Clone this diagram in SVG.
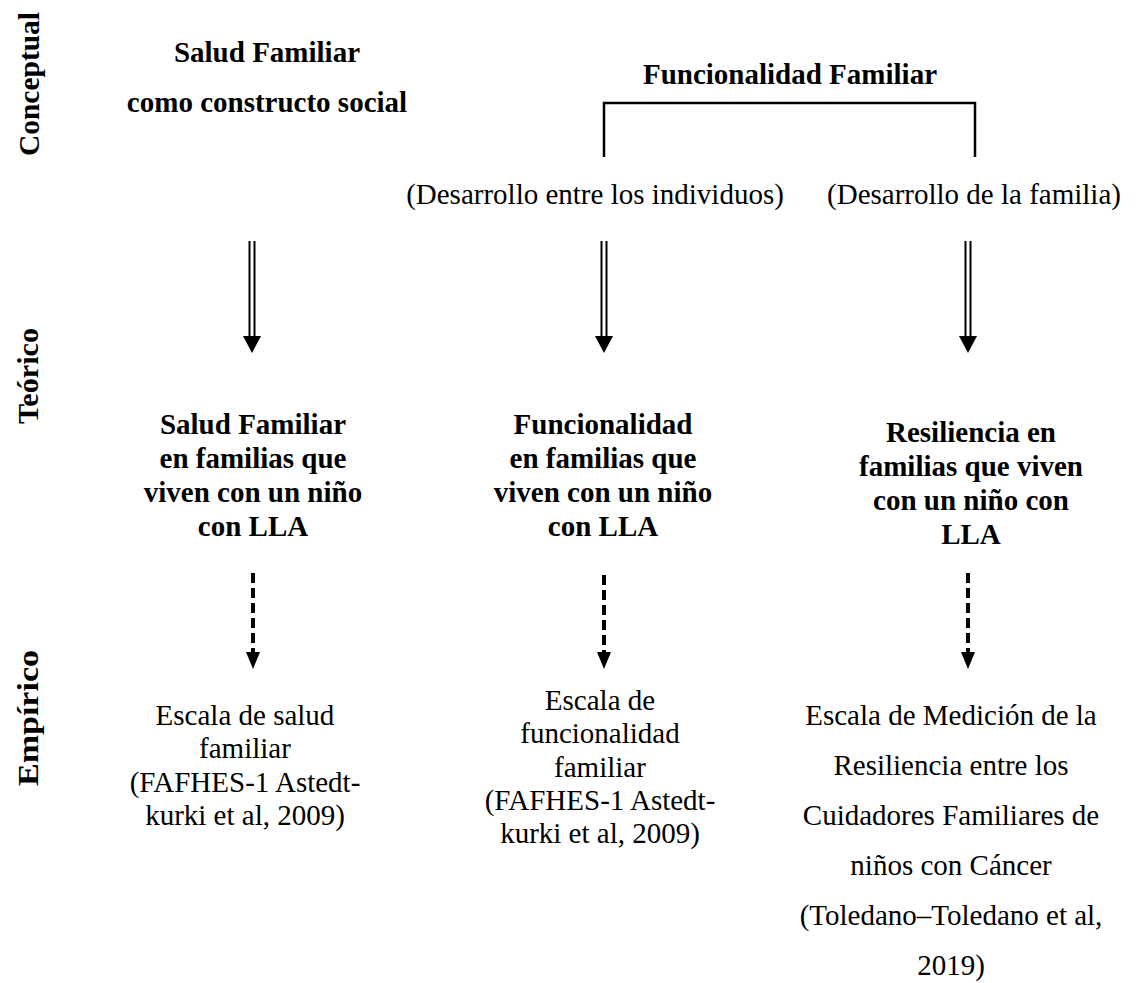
<svg xmlns="http://www.w3.org/2000/svg" width="1141" height="983" viewBox="0 0 1141 983">
<style>
text{font-family:'Liberation Serif','Times New Roman',serif;fill:#000;}
.b{font-weight:bold;font-size:29px;}
.r{font-size:29px;}
.c{text-anchor:middle;}
.lbl{font-weight:bold;font-size:29px;text-anchor:middle;}
.dbl{stroke:#000;stroke-width:7;}
.dblw{stroke:#fff;stroke-width:3;}
.dash{stroke:#000;stroke-width:4;stroke-dasharray:10 5;}
.brk{fill:none;stroke:#000;stroke-width:2.5;}
</style>
<defs>
<path id="headD" d="M-9,0 L9,0 L0,17 Z" fill="#000"/>
<path id="headS" d="M-7,0 L7,0 L0,17 Z" fill="#000"/>
</defs>
<g id="levels">
<text class="lbl" transform="translate(39,84) rotate(-90)" textLength="144" lengthAdjust="spacingAndGlyphs">Conceptual</text>
<text class="lbl" transform="translate(38,376) rotate(-90)" textLength="96" lengthAdjust="spacingAndGlyphs">Teórico</text>
<text class="lbl" transform="translate(38,718) rotate(-90)" textLength="136" lengthAdjust="spacingAndGlyphs">Empírico</text>
</g>
<g id="n-salud-concept">
<text class="b c" x="267" y="62">Salud Familiar</text>
<text class="b c" x="267" y="112">como constructo social</text>
</g>
<g id="n-func-concept">
<text class="b c" x="790" y="84">Funcionalidad Familiar</text>
</g>
<g id="n-des-ind">
<text class="r c" x="595" y="204">(Desarrollo entre los individuos)</text>
</g>
<g id="n-des-fam">
<text class="r c" x="974" y="204">(Desarrollo de la familia)</text>
</g>
<g id="n-salud-teo">
<text class="b c" x="253" y="434">Salud Familiar</text>
<text class="b c" x="253" y="468">en familias que</text>
<text class="b c" x="253" y="502">viven con un niño</text>
<text class="b c" x="253" y="536">con LLA</text>
</g>
<g id="n-func-teo">
<text class="b c" x="603" y="434">Funcionalidad</text>
<text class="b c" x="603" y="468">en familias que</text>
<text class="b c" x="603" y="502">viven con un niño</text>
<text class="b c" x="603" y="536">con LLA</text>
</g>
<g id="n-res-teo">
<text class="b c" x="971" y="442">Resiliencia en</text>
<text class="b c" x="971" y="476">familias que viven</text>
<text class="b c" x="971" y="510">con un niño con</text>
<text class="b c" x="971" y="544">LLA</text>
</g>
<g id="n-salud-emp">
<text class="r c" x="245" y="725">Escala de salud</text>
<text class="r c" x="245" y="758">familiar</text>
<text class="r c" x="245" y="792">(FAFHES-1 Astedt-</text>
<text class="r c" x="245" y="825">kurki et al, 2009)</text>
</g>
<g id="n-func-emp">
<text class="r c" x="600" y="710">Escala de</text>
<text class="r c" x="600" y="743">funcionalidad</text>
<text class="r c" x="600" y="777">familiar</text>
<text class="r c" x="600" y="810">(FAFHES-1 Astedt-</text>
<text class="r c" x="600" y="843">kurki et al, 2009)</text>
</g>
<g id="n-res-emp">
<text class="r c" x="951" y="725">Escala de Medición de la</text>
<text class="r c" x="951" y="775">Resiliencia entre los</text>
<text class="r c" x="951" y="825">Cuidadores Familiares de</text>
<text class="r c" x="951" y="875">niños con Cáncer</text>
<text class="r c" x="951" y="925">(Toledano–Toledano et al,</text>
<text class="r c" x="951" y="975">2019)</text>
</g>
<g id="connectors">
<path class="brk" d="M604,157 V103 H975 V157"/>
<line class="dbl" x1="252" y1="241" x2="252" y2="338"/>
<line class="dblw" x1="252" y1="241" x2="252" y2="338"/>
<use href="#headD" x="252" y="336"/>
<line class="dbl" x1="604" y1="241" x2="604" y2="338"/>
<line class="dblw" x1="604" y1="241" x2="604" y2="338"/>
<use href="#headD" x="604" y="336"/>
<line class="dbl" x1="968" y1="241" x2="968" y2="338"/>
<line class="dblw" x1="968" y1="241" x2="968" y2="338"/>
<use href="#headD" x="968" y="336"/>
<line class="dash" x1="253" y1="573" x2="253" y2="656"/>
<use href="#headS" x="253" y="652"/>
<line class="dash" x1="604" y1="575" x2="604" y2="656"/>
<use href="#headS" x="604" y="652"/>
<line class="dash" x1="968" y1="573" x2="968" y2="656"/>
<use href="#headS" x="968" y="652"/>
</g>
</svg>
